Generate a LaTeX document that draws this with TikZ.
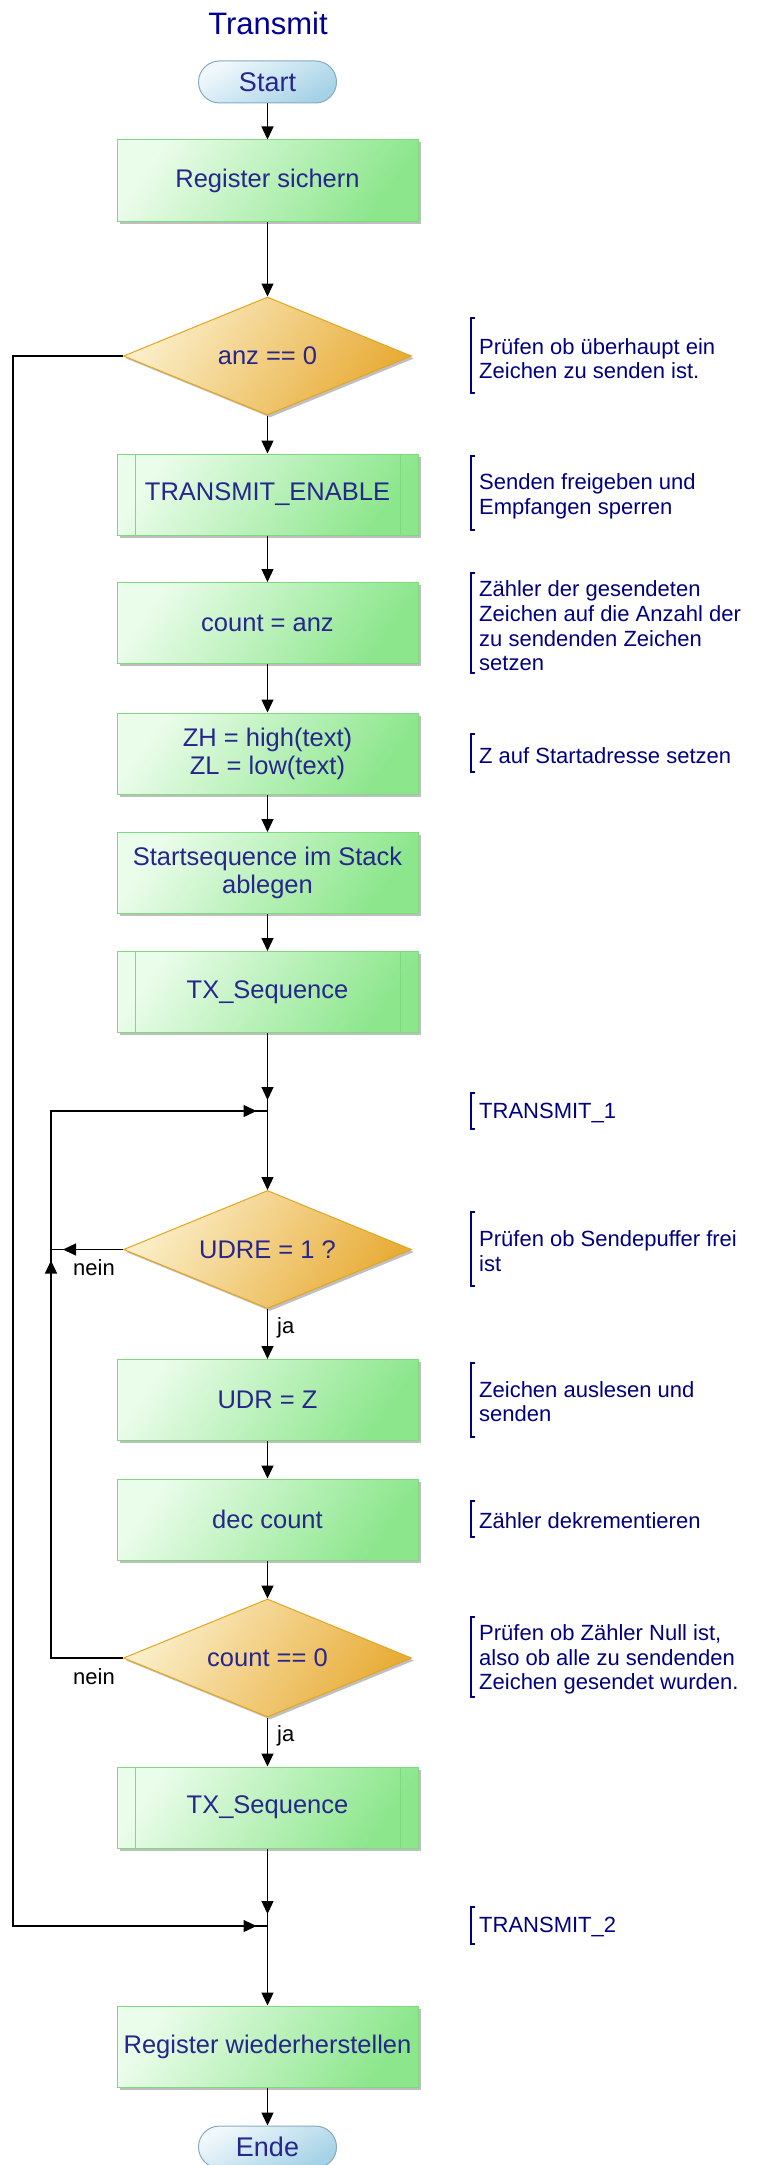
\documentclass[tikz,border=0pt]{standalone}
\usepackage{fontspec}
\setmainfont{Liberation Sans}
\usetikzlibrary{shapes.geometric, arrows.meta, shadows}

\definecolor{boxlight}{RGB}{234,252,234}
\definecolor{boxdark}{RGB}{140,230,140}
\definecolor{boxedge}{RGB}{125,218,125}
\definecolor{declight}{RGB}{251,238,200}
\definecolor{decdark}{RGB}{232,172,55}
\definecolor{decedge}{RGB}{228,165,30}
\definecolor{pilltop}{RGB}{240,248,252}
\definecolor{pillbot}{RGB}{165,210,230}
\definecolor{pilledge}{RGB}{135,170,190}
\definecolor{nodetext}{RGB}{38,38,140}
\definecolor{notetext}{RGB}{0,0,128}
\definecolor{titletext}{RGB}{0,0,150}

\newcommand\fcboxfont{\fontsize{25.5}{28}\selectfont}
\newcommand\fcnotefont{\fontsize{22}{24.7}\selectfont}
\newcommand\fctitlefont{\fontsize{31}{34}\selectfont}
\newcommand\fcpillfont{\fontsize{27}{30}\selectfont}

\begin{document}
\begin{tikzpicture}[x=1pt,y=-1pt,
  line/.style={line width=1.3pt, black},
  arr/.style={line, -{Triangle[length=13pt,width=12pt]}},
  shade3d/.style={drop shadow={shadow xshift=2.5pt, shadow yshift=-2.5pt, fill=black!45, opacity=0.55}},
  process/.style={rectangle, draw=boxedge, line width=1pt,
    top color=boxlight, bottom color=boxdark, shading angle=55,
    minimum width=301pt, minimum height=81pt, inner sep=2pt,
    align=center, text=nodetext, font=\fcboxfont, shade3d},
  subproc/.style={process,
    path picture={
      \draw[boxedge, line width=1pt]
        ([xshift=18pt]path picture bounding box.north west) --
        ([xshift=18pt]path picture bounding box.south west);
      \draw[boxedge, line width=1pt]
        ([xshift=-18pt]path picture bounding box.north east) --
        ([xshift=-18pt]path picture bounding box.south east);}},
  decision/.style={diamond, aspect=2.44, draw=decedge, line width=1pt,
    top color=declight, bottom color=decdark, shading angle=55,
    minimum width=288pt, minimum height=118pt, inner sep=0pt,
    text=nodetext, font=\fcboxfont, shade3d},
  terminal/.style={rectangle, rounded corners=21pt, draw=pilledge, line width=1pt,
    top color=pilltop, bottom color=pillbot, shading angle=30,
    minimum width=138pt, minimum height=42pt, inner sep=0pt,
    text=nodetext, font=\fcpillfont},
  note/.style={anchor=west, inner sep=0pt, align=left, text=notetext, font=\fcnotefont},
  brk/.style={draw=notetext, line width=1.3pt},
  branch/.style={inner sep=0pt, text=black, font=\fcnotefont}
]
\useasboundingbox (0,0) rectangle (763,2165);
\clip (0,0) rectangle (763,2165);
\fill[white] (0,0) rectangle (763,2165);

% title
\node[text=titletext, font=\fctitlefont] (title) at (268,23) {Transmit};

% main column
\node[terminal] (start) at (267.5,82) {Start};
\node[process]  (reg)   at (267.5,180.5) {Register sichern};
\node[decision] (anz)   at (267.5,356) {anz == 0};
\node[subproc]  (te)    at (267.5,494.5) {TRANSMIT\_ENABLE};
\node[process]  (cnt)   at (267.5,623) {count = anz};
\node[process]  (zh)    at (267.5,753.5) {ZH = high(text)\\ZL = low(text)};
\node[process]  (ss)    at (267.5,873) {Startsequence im Stack\\ablegen};
\node[subproc]  (tx1)   at (267.5,992) {TX\_Sequence};
\coordinate (j1) at (267.5,1111);
\node[decision] (udre)  at (267.5,1249.5) {UDRE = 1 ?};
\node[process]  (udr)   at (267.5,1400) {UDR = Z};
\node[process]  (dec)   at (267.5,1519.5) {dec count};
\node[decision] (cz)    at (267.5,1658) {count == 0};
\node[subproc]  (tx2)   at (267.5,1807.5) {TX\_Sequence};
\coordinate (j2) at (267.5,1926);
\node[process]  (rw)    at (267.5,2046.5) {Register wiederherstellen};
\node[terminal] (ende)  at (267.5,2147) {Ende};

% straight flow
\draw[arr] (start.south) -- (reg.north);
\draw[arr] (reg.south) -- (anz.north);
\draw[arr] (anz.south) -- (te.north);
\draw[arr] (te.south) -- (cnt.north);
\draw[arr] (cnt.south) -- (zh.north);
\draw[arr] (zh.south) -- (ss.north);
\draw[arr] (ss.south) -- (tx1.north);
\draw[line] (tx1.south) -- (j1);
\draw[arr] (tx1.south) -- ([yshift=11pt]j1);
\draw[arr] (j1) -- (udre.north);
\draw[arr] (udre.south) -- (udr.north);
\draw[arr] (udr.south) -- (dec.north);
\draw[arr] (dec.south) -- (cz.north);
\draw[arr] (cz.south) -- (tx2.north);
\draw[line] (tx2.south) -- (j2);
\draw[arr] (tx2.south) -- ([yshift=12pt]j2);
\draw[arr] (j2) -- (rw.north);
\draw[arr] (rw.south) -- (ende.north);

% inner loop (TRANSMIT_1)
\coordinate (lu) at (51,1249.5);
\coordinate (lb) at (51,1658);
\coordinate (lt) at (51,1111);
\draw[line] (cz.west) -- (lb) -- (lt) -- (j1);
\draw[line] (udre.west) -- (lu);
\draw[arr] (udre.west) -- ([xshift=12pt]lu);
\draw[arr] (lb) -- ([yshift=-11pt]lu);
\draw[arr] (lt) -- ([xshift=-11pt]j1);

% outer bypass (TRANSMIT_2)
\coordinate (ot) at (13,356);
\coordinate (ob) at (13,1926);
\draw[line] (anz.west) -- (ot) -- (ob) -- (j2);
\draw[arr] (ob) -- ([xshift=-11pt]j2);

% branch labels
\node[branch, anchor=east] (nein1) at (115,1268) {nein};
\node[branch, anchor=west] (ja1)   at (277,1328) {ja};
\node[branch, anchor=east] (nein2) at (115,1677) {nein};
\node[branch, anchor=west] (ja2)   at (277,1736) {ja};

% comments
\node[note] (c1)  at (479,358.5) {Prüfen ob überhaupt ein\\Zeichen zu senden ist.};
\draw[brk] (475,318) -- (471,318) -- (471,393) -- (475,393);
\node[note] (c2)  at (479,496) {Senden freigeben und\\Empfangen sperren};
\draw[brk] (475,456) -- (471,456) -- (471,530) -- (475,530);
\node[note] (c3)  at (479,626) {Zähler der gesendeten\\Zeichen auf die Anzahl der\\zu sendenden Zeichen\\setzen};
\draw[brk] (475,573) -- (471,573) -- (471,673) -- (475,673);
\node[note] (c4)  at (479,756) {Z auf Startadresse setzen};
\draw[brk] (475,734) -- (471,734) -- (471,772) -- (475,772);
\node[note] (c5)  at (479,1113) {TRANSMIT\_1};
\draw[brk] (475,1093) -- (471,1093) -- (471,1129) -- (475,1129);
\node[note] (c6)  at (479,1251) {Prüfen ob Sendepuffer frei\\ist};
\draw[brk] (475,1212) -- (471,1212) -- (471,1286) -- (475,1286);
\node[note] (c7)  at (479,1401.5) {Zeichen auslesen und\\senden};
\draw[brk] (475,1363) -- (471,1363) -- (471,1437) -- (475,1437);
\node[note] (c8)  at (479,1521) {Zähler dekrementieren};
\draw[brk] (475,1501) -- (471,1501) -- (471,1537) -- (475,1537);
\node[note] (c9)  at (479,1659.5) {Prüfen ob Zähler Null ist,\\also ob alle zu sendenden\\Zeichen gesendet wurden.};
\draw[brk] (475,1617) -- (471,1617) -- (471,1697) -- (475,1697);
\node[note] (c10) at (479,1927) {TRANSMIT\_2};
\draw[brk] (475,1907) -- (471,1907) -- (471,1944) -- (475,1944);
\end{tikzpicture}
\end{document}
